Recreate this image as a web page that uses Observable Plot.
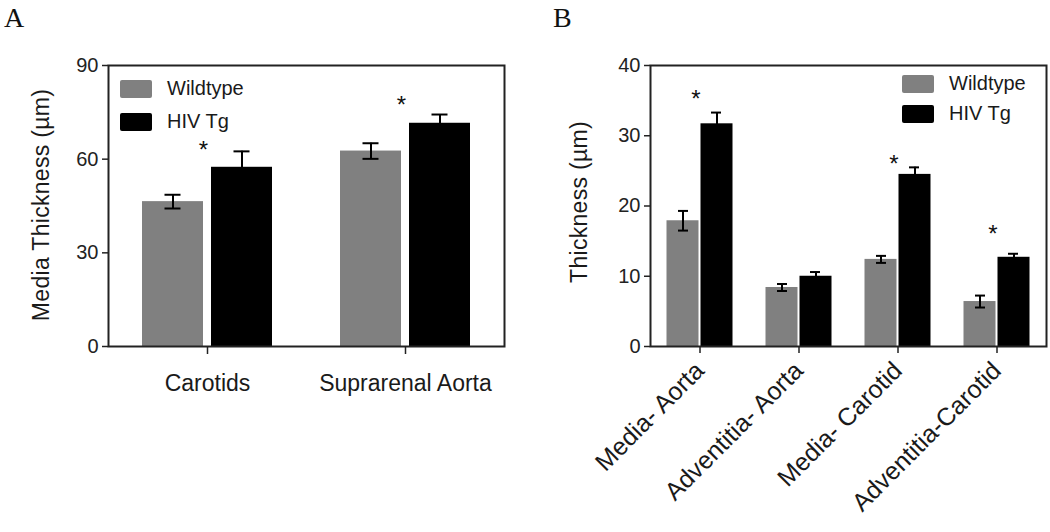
<!DOCTYPE html>
<html>
<head>
<meta charset="utf-8">
<script src="https://cdn.jsdelivr.net/npm/d3@7"></script>
<script src="https://cdn.jsdelivr.net/npm/@observablehq/plot@0.6"></script>
<style>
  html, body { margin: 0; padding: 0; background: #fff; }
  #wrap { position: relative; width: 1050px; height: 532px; overflow: hidden; font-family: "Liberation Sans", Arial, sans-serif; color: #1a1a1a; }
  .panel { position: absolute; top: 0; }
  .letter { position: absolute; font-family: "Liberation Serif", "Times New Roman", serif; font-size: 28px; color: #111; }
  .ytitle { position: absolute; font-size: 23px; letter-spacing: 0.3px; white-space: nowrap; transform: translate(-50%, -50%) rotate(-90deg); color: #1a1a1a; }
  .leg { position: absolute; font-size: 20px; display: flex; align-items: center; white-space: nowrap; color: #1a1a1a; }
  .sw { width: 32px; height: 18px; margin-right: 15px; border-radius: 2px; }
</style>
</head>
<body>
<div id="wrap"></div>
<script>
// ---------- Data ----------
const groups = ["Wildtype", "HIV Tg"];
const groupColors = ["#808080", "#000000"];

// Panel A
const catsA = ["Carotids", "Suprarenal Aorta"];
const wildA = [46.4, 62.6];
const wildErrA = [2.2, 2.5];
const hivA = [57.4, 71.5];
const hivErrA = [5.1, 2.8];
const starA = [65.2, 79.5];
const yTicksA = [0, 30, 60, 90];

// Panel B
const catsB = ["Media- Aorta", "Adventitia- Aorta", "Media- Carotid", "Adventitia-Carotid"];
const wildB = [17.9, 8.4, 12.4, 6.4];
const wildErrB = [1.4, 0.5, 0.5, 0.85];
const hivB = [31.7, 10.0, 24.5, 12.7];
const hivErrB = [1.6, 0.6, 1.0, 0.5];
const starB = [36.2, null, 27.0, 16.9];
const yTicksB = [0, 10, 20, 30, 40];

// ---------- Helpers ----------
function rows(cats, wild, wErr, hiv, hErr) {
  const out = [];
  cats.forEach((c, i) => {
    out.push({cat: c, group: groups[0], v: wild[i], e: wErr[i]});
    out.push({cat: c, group: groups[1], v: hiv[i], e: hErr[i]});
  });
  return out;
}

function panel(opts) {
  const data = rows(opts.cats, opts.wild, opts.wErr, opts.hiv, opts.hErr);
  const W = data.filter(d => d.group === groups[0]);
  const H = data.filter(d => d.group === groups[1]);
  const stars = opts.cats.map((c, i) => ({cat: c, y: opts.star[i]})).filter(d => d.y != null);
  const g = opts.geom; // band-relative geometry
  const marks = [
    Plot.barY(W, {x: "cat", y: "v", fill: groupColors[0], insetLeft: g.wl, insetRight: g.wr}),
    Plot.barY(H, {x: "cat", y: "v", fill: groupColors[1], insetLeft: g.wr, insetRight: g.wl}),
    Plot.ruleX(W, {x: "cat", y1: d => d.v - d.e, y2: d => d.v + d.e, stroke: "#000", strokeWidth: 2, dx: -g.off}),
    Plot.ruleX(H, {x: "cat", y1: d => d.v - d.e, y2: d => d.v + d.e, stroke: "#000", strokeWidth: 2, dx: g.off}),
    Plot.tickY(W, {x: "cat", y: d => d.v + d.e, stroke: "#000", strokeWidth: 2, insetLeft: g.cl, insetRight: g.cr}),
    Plot.tickY(W, {x: "cat", y: d => d.v - d.e, stroke: "#000", strokeWidth: 2, insetLeft: g.cl, insetRight: g.cr}),
    Plot.tickY(H, {x: "cat", y: d => d.v + d.e, stroke: "#000", strokeWidth: 2, insetLeft: g.cr, insetRight: g.cl}),
    Plot.text(stars, {x: "cat", y: "y", text: () => "*", fontSize: 24, fill: "#111", dx: -4, dy: 7, fontFamily: "Liberation Sans, Arial, sans-serif"}),
    Plot.frame({stroke: "#222", strokeWidth: 2}),
    Plot.axisY({ticks: opts.yTicks, tickSize: 6, tickPadding: 4, fontSize: 20, label: null, stroke: "#222", strokeWidth: 1.5, fill: "#222"}),
    Plot.axisX(opts.xAxis)
  ];
  return Plot.plot({
    width: opts.width,
    height: 532,
    marginLeft: opts.ml,
    marginRight: opts.mr,
    marginTop: 65,
    marginBottom: 186,
    x: {domain: opts.cats, padding: 0, axis: null},
    y: {domain: opts.yDomain, axis: null},
    style: {fontFamily: "Liberation Sans, Arial, sans-serif", color: "#1a1a1a", background: "transparent", overflow: "visible"},
    marks
  });
}

const wrap = document.getElementById("wrap");

const svgA = panel({
  cats: catsA, wild: wildA, wErr: wildErrA, hiv: hivA, hErr: hivErrA, star: starA,
  yTicks: yTicksA, yDomain: [0, 90], width: 525, ml: 108, mr: 21,
  geom: {wl: 34, wr: 103, off: 34.5, cl: 56.5, cr: 125.5},
  xAxis: {tickSize: 8, tickPadding: 20, fontSize: 23, label: null, stroke: "#222", strokeWidth: 1.5, fill: "#1a1a1a"}
});
const divA = document.createElement("div");
divA.className = "panel"; divA.style.left = "0px";
divA.appendChild(svgA);
wrap.appendChild(divA);

const svgB = panel({
  cats: catsB, wild: wildB, wErr: wildErrB, hiv: hivB, hErr: hivErrB, star: starB,
  yTicks: yTicksB, yDomain: [0, 40], width: 525, ml: 125, mr: 4,
  geom: {wl: 16.5, wr: 50.5, off: 17, cl: 28, cr: 61},
  xAxis: {tickSize: 7, tickPadding: 13, fontSize: 25, tickRotate: -45, label: null, stroke: "#222", strokeWidth: 1.5, fill: "#1a1a1a"}
});
const divB = document.createElement("div");
divB.className = "panel"; divB.style.left = "525px";
divB.appendChild(svgB);
wrap.appendChild(divB);

// Panel letters
function addDiv(cls, text, css) {
  const d = document.createElement("div");
  d.className = cls; d.textContent = text;
  Object.assign(d.style, css);
  wrap.appendChild(d);
  return d;
}
addDiv("letter", "A", {left: "4px", top: "2px"});
addDiv("letter", "B", {left: "553px", top: "2px"});

// Axis titles
addDiv("ytitle", "Media Thickness (\u00b5m)", {left: "41px", top: "205px"});
addDiv("ytitle", "Thickness (\u00b5m)", {left: "579px", top: "202px"});

// Legends
function legend(x, y0, dy) {
  groups.forEach((g, i) => {
    const d = document.createElement("div");
    d.className = "leg";
    d.style.left = x + "px";
    d.style.top = (y0 + i * dy) + "px";
    const sw = document.createElement("div");
    sw.className = "sw"; sw.style.background = groupColors[i];
    d.appendChild(sw);
    const t = document.createElement("span");
    t.textContent = g;
    d.appendChild(t);
    wrap.appendChild(d);
  });
}
legend(120, 77, 33);
legend(902, 72, 30);
</script>
</body>
</html>
